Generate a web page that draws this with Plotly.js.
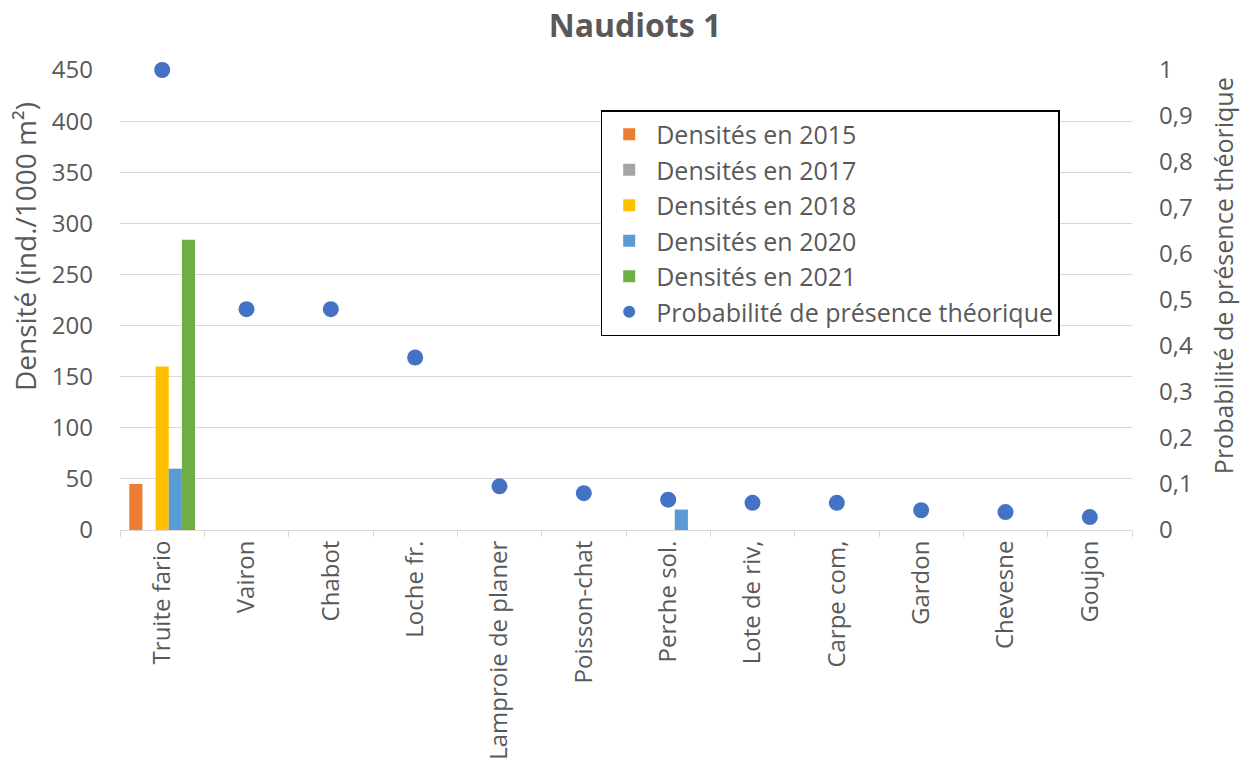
<!DOCTYPE html>
<html>
<head>
<meta charset="utf-8">
<script src="https://cdn.plot.ly/plotly-3.0.1.min.js"></script>
<style>html,body{margin:0;padding:0;background:#fff;}#chart{width:1245px;height:773px;}</style>
</head>
<body>
<div id="chart"></div>
<script>
const categories = ["Truite fario","Vairon","Chabot","Loche fr.","Lamproie de planer","Poisson-chat","Perche sol.","Lote de riv,","Carpe com,","Gardon","Chevesne","Goujon"];
const dens2015 = [45, null, null, null, null, null, null, null, null, null, null, null];
const dens2017 = [null, null, null, null, null, null, null, null, null, null, null, null];
const dens2018 = [160, null, null, null, null, null, null, null, null, null, null, null];
const dens2020 = [60, null, null, null, null, null, 20, null, null, null, null, null];
const dens2021 = [284, null, null, null, null, null, null, null, null, null, null, null];
const probPresence = [1, 0.48, 0.48, 0.375, 0.095, 0.08, 0.066, 0.059, 0.059, 0.043, 0.039, 0.028];
const leftTicks = [0,50,100,150,200,250,300,350,400,450];
const rightTicks = [0,0.1,0.2,0.3,0.4,0.5,0.6,0.7,0.8,0.9,1];
const leftTitle = "Densité (ind./1000 m²)";
const rightTitle = "Probabilité de présence théorique";

const FONT = "Open Sans, Noto Sans, sans-serif";
const TXT = "#595959";

const traces = [
  {type:"bar", name:"Densités en 2015", x:categories, y:dens2015, marker:{color:"#ED7D31"}},
  {type:"bar", name:"Densités en 2017", x:categories, y:dens2017, marker:{color:"#A5A5A5"}},
  {type:"bar", name:"Densités en 2018", x:categories, y:dens2018, marker:{color:"#FFC000"}},
  {type:"bar", name:"Densités en 2020", x:categories, y:dens2020, marker:{color:"#5B9BD5"}},
  {type:"bar", name:"Densités en 2021", x:categories, y:dens2021, marker:{color:"#70AD47"}},
  {type:"scatter", mode:"markers", name:"Probabilité de présence théorique", x:categories, y:probPresence, yaxis:"y2",
   cliponaxis:false, marker:{color:"#4472C4", size:16}}
];

const layout = {
  width:1245, height:773,
  paper_bgcolor:"#fff", plot_bgcolor:"#fff",
  separators:", ",
  font:{family:FONT, color:TXT, size:22},
  margin:{l:120, r:113, t:70, b:243},
  title:{text:"<b>Naudiots 1</b>", font:{family:FONT, size:32, color:TXT}, x:0.51, xanchor:"center", y:0.966, yanchor:"middle"},
  barmode:"group", bargap:0.22, bargroupgap:0,
  showlegend:true,
  legend:{x:0.475, y:0.913, xanchor:"left", yanchor:"top", bordercolor:"#000", borderwidth:1.5,
          bgcolor:"#fff", font:{family:FONT, size:25, color:TXT}, tracegroupgap:0, traceorder:"normal",
          itemsizing:"constant", itemwidth:44},
  xaxis:{type:"category", range:[-0.5, 11.5], automargin:false, tickangle:-90, ticks:"outside", tickson:"boundaries", ticklen:6,
         tickcolor:"#d9d9d9", showline:true, linecolor:"#d9d9d9", linewidth:1, showgrid:false,
         tickfont:{family:FONT, size:24, color:TXT}},
  yaxis:{range:[0,450], tickvals:leftTicks, automargin:false, showgrid:true, gridcolor:"#d9d9d9", zeroline:false,
         showline:false, ticks:"", ticklabelstandoff:26, tickfont:{family:FONT, size:24, color:TXT}},
  yaxis2:{range:[0,1], tickvals:rightTicks, overlaying:"y", side:"right", automargin:false, showgrid:false, zeroline:false,
          showline:false, ticks:"", ticklabelstandoff:26, tickformat:".1~f",
          tickfont:{family:FONT, size:24, color:TXT}},
  annotations:[
    {text:leftTitle, xref:"paper", yref:"paper", x:-0.094, y:0.617, textangle:-90, showarrow:false,
     xanchor:"center", yanchor:"middle", font:{family:FONT, size:28, color:TXT}},
    {text:rightTitle, xref:"paper", yref:"paper", x:1.09, y:0.552, textangle:-90, showarrow:false,
     xanchor:"center", yanchor:"middle", font:{family:FONT, size:25, color:TXT}}
  ]
};

Plotly.newPlot("chart", traces, layout, {displayModeBar:false, staticPlot:true});
</script>
</body>
</html>
